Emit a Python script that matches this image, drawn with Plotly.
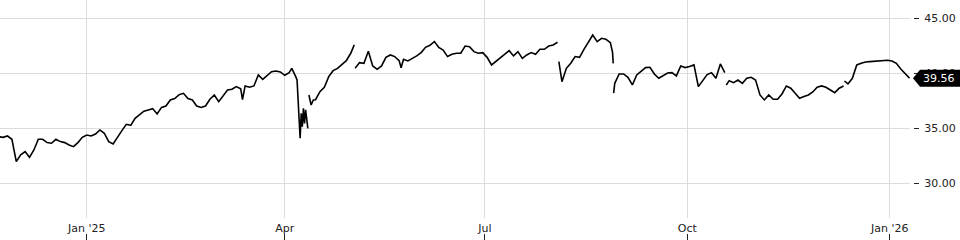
import pandas as pd
import plotly.graph_objects as go

# days after 2025-01-01 and closing price (None = gap in line)
day_offset = [
    -40, -38, -36, -34, -32, -30, -28, -26, -24, -22, -20, -18, -16, -14, -12, -10, -8, -6, -4, -2,
    0, 2, 4, 6, 8, 10, 12, 14, 16, 18, 20, 22, 24, 26, 28, 30, 32, 34, 36, 38,
    40, 42, 44, 46, 48, 50, 52, 54, 56, 58, 60, 62, 64, 66, 68, 70, 70.8, 72, 74, 76,
    78, 80, 82, 84, 86, 88, 90, 92, 93.2, 94.5, 95, 95.6, 96, 96.5, 97, 97.5, 98, 98.5, 99, 99.5,
    100, 100.5, 100.8, 101, 101.5, 102, 103, 104, 106, 108, 110, 112, 114, 116, 118, 120, 121.3, 121.6, 121.8, 122,
    124, 126, 128, 130, 132, 134, 136, 138, 140, 142, 142.9, 144, 146, 148, 150, 152, 154, 156, 158, 160,
    162, 164, 166, 168, 170, 172, 174, 176, 178, 180, 182, 184, 186, 188, 190, 192, 194, 196, 198, 200,
    202, 204, 206, 208, 210, 212, 214, 214.3, 214.6, 216, 218, 220, 222, 224, 226, 228, 230, 232, 234, 236,
    238, 239.0, 239.3, 239.4, 239.5, 240, 242, 244, 246, 248, 250, 252, 254, 256, 258, 260, 262, 264, 266, 268,
    270, 272, 274, 276, 278, 280, 282, 284, 286, 288, 290, 290.4, 290.7, 292, 294, 296, 298, 300, 302, 304,
    306, 308, 310, 312, 314, 316, 318, 320, 322, 324, 326, 328, 330, 332, 334, 336, 338, 340, 342, 344,
    344.2, 344.4, 346, 348, 350, 352, 354, 356, 358, 360, 362, 364, 366, 368, 370, 372, 373.2, 374,
]
price = [
    34.24, 34.18, 34.30, 34.00, 31.97, 32.58, 32.88, 32.36, 33.03, 34.00, 34.00, 33.70, 33.64, 34.00, 33.79, 33.70, 33.48, 33.33, 33.70, 34.18,
    34.39, 34.30, 34.48, 34.85, 34.55, 33.79, 33.58, 34.24, 34.79, 35.36, 35.27, 35.90, 36.27, 36.55, 36.67, 36.79, 36.30, 36.90, 37.03, 37.58,
    37.70, 38.06, 38.18, 37.70, 37.58, 37.03, 36.90, 37.03, 37.64, 38.03, 37.42, 37.94, 38.48, 38.55, 38.79, 38.60, 37.60, 38.85, 38.73, 38.85,
    39.85, 39.45, 39.76, 40.15, 40.21, 40.12, 39.82, 40.06, 40.45, 40.00, 39.70, 39.40, 37.58, 36.67, 34.09, 36.36, 35.15, 36.82, 35.45, 36.67,
    35.61, 35.00, None, 38.03, 37.58, 37.12, 37.58, 37.60, 38.33, 38.73, 39.70, 40.24, 40.45, 40.76, 41.15, 41.82, 42.33, 42.58, None, 40.45,
    40.97, 40.91, 42.00, 40.67, 40.36, 40.67, 41.45, 41.67, 41.52, 41.15, 40.50, 41.27, 41.12, 41.36, 41.58, 41.88, 42.36, 42.55, 42.88, 42.36,
    42.12, 41.52, 41.73, 41.82, 41.82, 42.48, 42.42, 41.97, 41.82, 41.88, 41.45, 40.76, 41.09, 41.36, 41.67, 42.06, 41.58, 41.97, 41.36, 41.67,
    41.88, 41.73, 42.18, 42.18, 42.48, 42.58, 42.82, None, 41.06, 39.24, 40.45, 40.91, 41.52, 41.45, 42.18, 42.88, 43.48, 42.88, 43.18, 43.09,
    42.79, 41.90, 40.90, None, 38.20, 39.09, 39.94, 39.94, 39.64, 38.94, 39.85, 40.21, 40.52, 40.55, 39.94, 39.55, 39.82, 40.03, 40.06, 39.76,
    40.67, 40.52, 40.61, 40.76, 38.79, 39.33, 39.88, 40.06, 39.55, 40.85, 40.06, None, 38.94, 39.33, 39.15, 39.39, 39.09, 39.55, 39.64, 39.39,
    38.03, 37.58, 38.03, 37.64, 37.64, 38.12, 38.85, 38.64, 38.18, 37.73, 37.88, 38.03, 38.30, 38.73, 38.85, 38.73, 38.48, 38.24, 38.64, 38.85,
    None, 39.30, 39.03, 39.55, 40.76, 40.91, 41.03, 41.06, 41.09, 41.09, 41.09, 41.18, 41.12, 40.91, 40.39, 39.94, 39.64, 39.56,
]

tick_dates = ["2025-01-01", "2025-04-01", "2025-07-01", "2025-10-01", "2026-01-01"]
tick_labels = ["Jan '25", "Apr", "Jul", "Oct", "Jan '26"]
y_ticks = [30, 35, 40, 45]

dates = pd.Timestamp("2025-01-01") + pd.to_timedelta(day_offset, unit="D")
last = [p for p in price if p is not None][-1]

FONT = "DejaVu Sans"
TXT = "#222222"
GRID = "#dcdcdc"
x_range = ["2024-11-22 14:10", "2026-01-10 05:30"]

fig = go.Figure()
fig.add_trace(go.Scatter(
    x=dates, y=price, mode="lines", connectgaps=False,
    line=dict(color="#000000", width=1.6), hoverinfo="skip", showlegend=False,
))
# invisible copy carrying the bottom tick-mark axis
fig.add_trace(go.Scatter(
    x=dates, y=price, mode="lines", xaxis="x2", yaxis="y",
    line=dict(color="rgba(0,0,0,0)", width=0), hoverinfo="skip", showlegend=False,
))

fig.update_layout(
    width=960, height=240,
    margin=dict(l=0, r=0, t=0, b=0),
    paper_bgcolor="white", plot_bgcolor="white",
    font=dict(family=FONT, size=11, color=TXT),
    showlegend=False,
    xaxis=dict(
        type="date", domain=[0, 0.948], range=x_range,
        tickmode="array", tickvals=tick_dates, ticktext=tick_labels,
        showgrid=True, gridcolor=GRID, gridwidth=1,
        ticks="", showline=False, zeroline=False,
        tickfont=dict(family=FONT, size=11, color=TXT),
        anchor="y", ticklabelstandoff=2,
    ),
    xaxis2=dict(
        type="date", domain=[0, 0.948], range=x_range, matches="x",
        overlaying="x", anchor="free", position=0, side="bottom",
        tickmode="array", tickvals=tick_dates,
        ticks="inside", ticklen=6, tickwidth=1, tickcolor=TXT,
        showticklabels=False, showgrid=False, showline=False, zeroline=False,
    ),
    yaxis=dict(
        domain=[22 / 240, 1], range=[26.845, 46.664],
        side="right", anchor="free", position=0.951,
        tickmode="array", tickvals=y_ticks, tickformat=".2f",
        ticks="outside", ticklen=5, tickwidth=1, tickcolor=TXT,
        showgrid=True, gridcolor=GRID, gridwidth=1,
        showline=False, zeroline=False,
        tickfont=dict(family=FONT, size=11, color=TXT),
        ticklabelstandoff=3,
    ),
)

# last-price tag
fig.add_shape(
    type="path", xref="paper", yref="y",
    xsizemode="pixel", ysizemode="pixel", xanchor=1.0, yanchor=last,
    path="M-47,0 L-40,8.5 L0,8.5 L0,-8.5 L-40,-8.5 Z",
    fillcolor="#000000", line=dict(width=0), layer="above",
)
fig.add_annotation(
    xref="paper", yref="y", x=938.7 / 960, y=last, text=f"{last:.2f}",
    showarrow=False, xanchor="center", yanchor="middle",
    font=dict(family=FONT, size=11, color="#ffffff"),
)

fig.write_html("out.html")
